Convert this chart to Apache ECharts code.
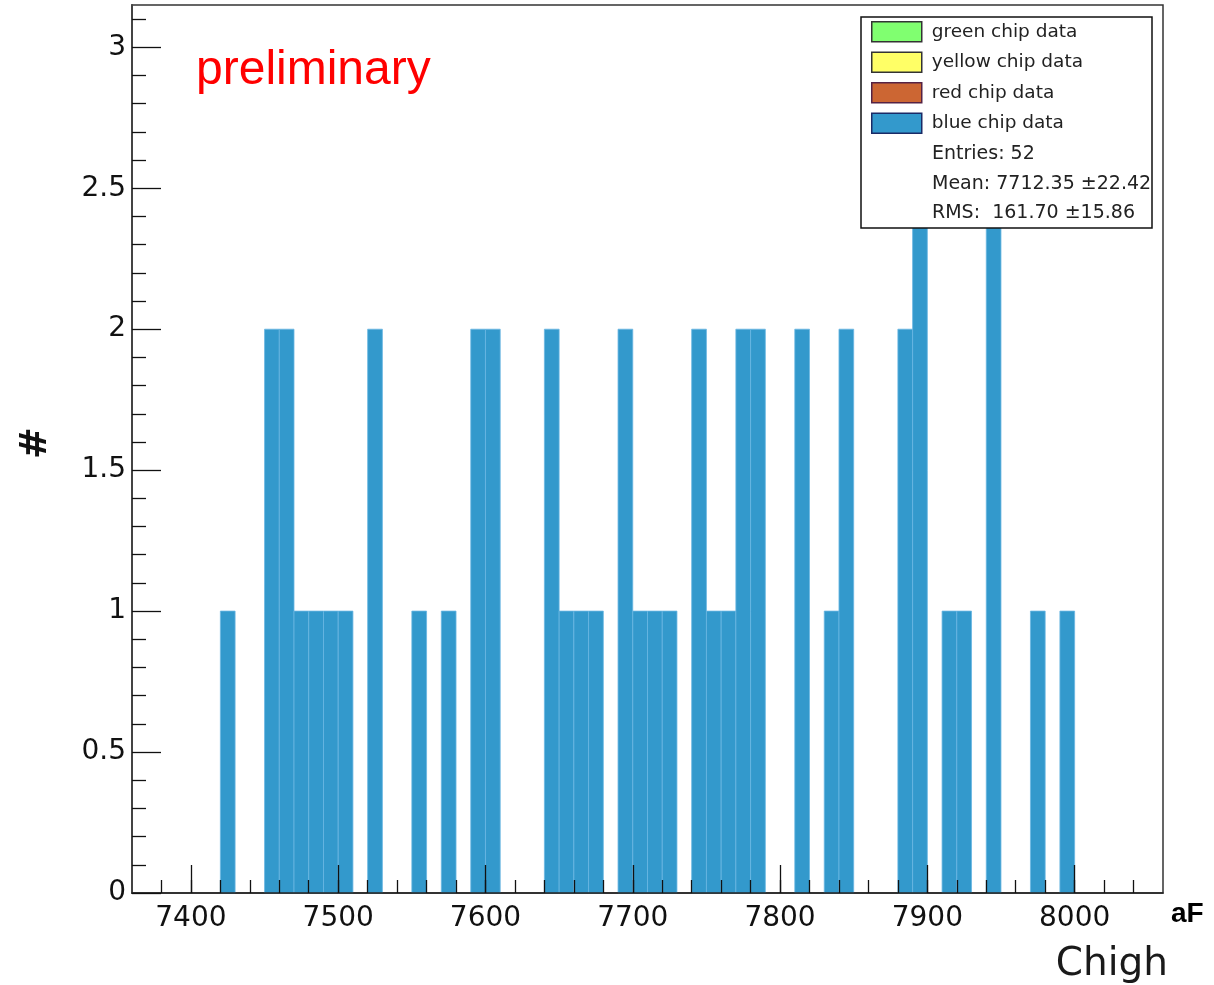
<!DOCTYPE html>
<html>
<head>
<meta charset="utf-8">
<style>
  html, body { margin: 0; padding: 0; background: #fff; }
  #chart { width: 1214px; height: 985px; }
</style>
<script src="https://cdn.jsdelivr.net/npm/echarts@6/dist/echarts.min.js"></script>
</head>
<body>
<div id="chart"></div>
<script>
// ---- data ----
const binWidth = 10;
const binLow = [7420, 7450, 7460, 7470, 7480, 7490, 7500, 7520, 7550, 7570,
                7590, 7600, 7640, 7650, 7660, 7670, 7690, 7700, 7710, 7720,
                7740, 7750, 7760, 7770, 7780, 7810, 7830, 7840, 7880, 7890,
                7910, 7920, 7940, 7970, 7990];
const counts = [1, 2, 2, 1, 1, 1, 1, 2, 1, 1,
                2, 2, 2, 1, 1, 1, 2, 1, 1, 1,
                2, 1, 1, 2, 2, 2, 1, 2, 2, 3,
                1, 1, 3, 1, 1];
const xMajorTicks = [7400, 7500, 7600, 7700, 7800, 7900, 8000];
const xMinorTicks = [7380, 7400, 7420, 7440, 7460, 7480, 7500, 7520, 7540, 7560, 7580,
                     7600, 7620, 7640, 7660, 7680, 7700, 7720, 7740, 7760, 7780,
                     7800, 7820, 7840, 7860, 7880, 7900, 7920, 7940, 7960, 7980,
                     8000, 8020, 8040];
const yMajorTicks = [0, 0.5, 1, 1.5, 2, 2.5, 3];
const yMinorTicks = [0.1, 0.2, 0.3, 0.4, 0.6, 0.7, 0.8, 0.9, 1.1, 1.2, 1.3, 1.4,
                     1.6, 1.7, 1.8, 1.9, 2.1, 2.2, 2.3, 2.4, 2.6, 2.7, 2.8, 2.9, 3.1];
const legendNames = ['green chip data', 'yellow chip data', 'red chip data', 'blue chip data'];
const legendColors = ['#80ff70', '#ffff66', '#cc6633', '#3399cc'];
const legendBorders = ['#333333', '#333333', '#552244', '#1a2a66'];
const statsLines = ['Entries: 52', 'Mean: 7712.35 \u00b122.42', 'RMS:  161.70 \u00b115.86'];
const xRange = [7360, 8060];
const yRange = [0, 3.15];

const FONT = 'DejaVu Sans';
const chart = echarts.init(document.getElementById('chart'), null, { renderer: 'canvas' });

const histData = binLow.map((b, i) => [b, counts[i]]);

function renderBar(params, api) {
  const x0 = api.value(0);
  const c = api.value(1);
  const p0 = api.coord([x0, 0]);
  const p1 = api.coord([x0 + binWidth, c]);
  return {
    type: 'rect',
    shape: { x: p0[0], y: p1[1], width: p1[0] - p0[0], height: p0[1] - p1[1] },
    style: { fill: '#3399cc', stroke: '#6ab6e2', lineWidth: 0.8 }
  };
}

const series = [];
legendNames.forEach((n, i) => {
  if (i < 3) {
    series.push({
      name: n, type: 'custom', data: [],
      itemStyle: { color: legendColors[i] },
      renderItem: () => null
    });
  }
});
series.push({
  name: legendNames[3], type: 'custom', xAxisIndex: 0, yAxisIndex: 0,
  itemStyle: { color: legendColors[3] },
  data: histData, renderItem: renderBar, z: 1, silent: true
});

const plainNum = v => String(v);

const option = {
  animation: false,
  backgroundColor: '#ffffff',
  textStyle: { fontFamily: FONT },
  grid: {
    left: 132, top: 5, right: 51, bottom: 92,
    show: true, borderColor: '#333', borderWidth: 1.5, backgroundColor: 'transparent'
  },
  xAxis: [
    {
      type: 'value', min: xRange[0], max: xRange[1], position: 'bottom', z: 5,
      splitLine: { show: false },
      axisLine: { show: true, onZero: false, lineStyle: { color: '#222', width: 1.5 } },
      axisTick: { show: true, inside: true, length: 28, customValues: xMajorTicks,
                  lineStyle: { color: '#111', width: 1.3 } },
      axisLabel: { customValues: xMajorTicks, margin: 12, fontSize: 28, color: '#111',
                   fontFamily: FONT, formatter: plainNum }
    },
    {
      type: 'value', min: xRange[0], max: xRange[1], position: 'bottom', z: 5,
      splitLine: { show: false },
      axisLine: { show: false },
      axisTick: { show: true, inside: true, length: 13, customValues: xMinorTicks,
                  lineStyle: { color: '#111', width: 1.3 } },
      axisLabel: { show: false }
    }
  ],
  yAxis: [
    {
      type: 'value', min: yRange[0], max: yRange[1], position: 'left', z: 5,
      splitLine: { show: false },
      axisLine: { show: true, onZero: false, lineStyle: { color: '#444', width: 2 } },
      axisTick: { show: true, inside: true, length: 29, customValues: yMajorTicks,
                  lineStyle: { color: '#111', width: 1.3 } },
      axisLabel: { customValues: yMajorTicks, margin: 6, fontSize: 28, color: '#111',
                   fontFamily: FONT, formatter: plainNum }
    },
    {
      type: 'value', min: yRange[0], max: yRange[1], position: 'left', z: 5,
      splitLine: { show: false },
      axisLine: { show: false },
      axisTick: { show: true, inside: true, length: 14, customValues: yMinorTicks,
                  lineStyle: { color: '#111', width: 1.3 } },
      axisLabel: { show: false }
    }
  ],
  legend: {
    orient: 'vertical', left: 871, top: 21, padding: 0,
    itemWidth: 50, itemHeight: 20, itemGap: 9, icon: 'rect', z: 20,
    selectedMode: false,
    textStyle: { fontFamily: FONT, fontSize: 18.5, color: '#222', padding: [0, 0, 0, 5], lineHeight: 20 },
    data: legendNames.map((n, i) => ({
      name: n,
      itemStyle: { color: legendColors[i], borderColor: legendBorders[i], borderWidth: 1.5 }
    }))
  },
  graphic: [
    { type: 'rect', z: 10, shape: { x: 861, y: 17, width: 291, height: 211 },
      style: { fill: '#fff', stroke: '#111', lineWidth: 1.5 } },
    { type: 'text', z: 21, x: 932, y: 154,
      style: { text: statsLines[0], font: '19px "DejaVu Sans"', fill: '#222', verticalAlign: 'middle' } },
    { type: 'text', z: 21, x: 932, y: 184,
      style: { text: statsLines[1], font: '19px "DejaVu Sans"', fill: '#222', verticalAlign: 'middle' } },
    { type: 'text', z: 21, x: 932, y: 213,
      style: { text: statsLines[2], font: '19px "DejaVu Sans"', fill: '#222', verticalAlign: 'middle' } },
    { type: 'text', z: 21, x: 196, y: 71,
      style: { text: 'preliminary', font: '48px "Liberation Sans"', fill: '#ff0000', verticalAlign: 'middle' } },
    { type: 'text', z: 21, x: 1171, y: 914,
      style: { text: 'aF', font: 'bold 28px "Liberation Sans"', fill: '#000', verticalAlign: 'middle' } },
    { type: 'text', z: 21, x: 1168, y: 965,
      style: { text: 'Chigh', font: '39px "DejaVu Sans"', fill: '#1a1a1a', align: 'right', verticalAlign: 'middle' } },
    { type: 'text', z: 21, x: 36, y: 443, rotation: Math.PI / 2,
      style: { text: '#', font: 'bold 38px "DejaVu Sans"', fill: '#111', align: 'center', verticalAlign: 'middle' } }
  ],
  series: series
};
chart.setOption(option);
</script>
</body>
</html>
